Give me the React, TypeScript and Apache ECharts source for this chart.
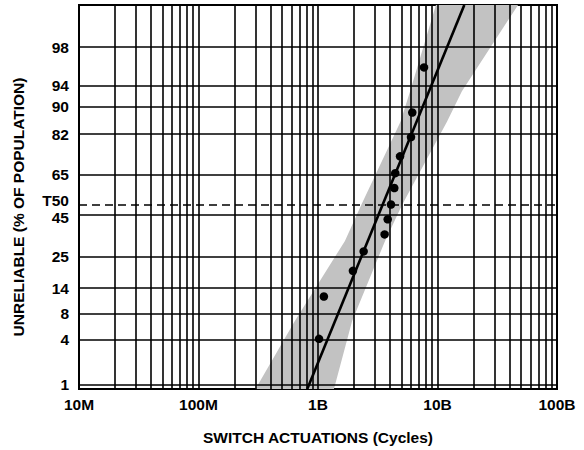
import React, { useEffect, useRef } from "react";
import * as echarts from "echarts";

// ---- data ----
const xTickLabels = ["10M", "100M", "1B", "10B", "100B"];
const xMin = 1e7;
const xMax = 1e11;
const minorMultipliers = [2, 3, 4, 5, 6, 7, 8, 9];

const yGridPct = [1, 4, 8, 14, 25, 45, 65, 82, 90, 94, 98];
const yGridLabels = ["1", "4", "8", "14", "25", "45", "65", "82", "90", "94", "98"];
const t50Pct = 50;
const t50Label = "T50";
const yMinPct = 0.84;
const yMaxPct = 99.53;

const failCycles = [1.02e9, 1.12e9, 1.96e9, 2.41e9, 3.61e9, 3.83e9, 4.08e9, 4.35e9, 4.43e9, 4.86e9, 6.0e9, 6.15e9, 7.71e9];
const failPct = [4.1, 11.7, 19.6, 27.3, 35.1, 42.6, 50.2, 58.7, 66.0, 73.6, 81.1, 88.5, 96.3];

const fitCycles = [8.13e8, 1.676e10];
const fitPct = [0.84, 99.53];

const bandPct = [0.84, 6.6, 32, 50, 86, 93, 99.53];
const bandLow = [3.0e8, 6.4e8, 1.68e9, 2.3e9, 4.9e9, 5.9e9, 9.7e9];
const bandHigh = [1.36e9, 1.93e9, 3.64e9, 5.05e9, 1.2e10, 1.6e10, 4.72e10];

const xTitle = "SWITCH ACTUATIONS (Cycles)";
const yTitle = "UNRELIABLE (% OF POPULATION)";

// inverse standard normal CDF (normal probability scale)
function probit(pct: number): number {
  const p = pct / 100;
  const a = [-3.969683028665376e1, 2.209460984245205e2, -2.759285104469687e2, 1.38357751867269e2, -3.066479806614716e1, 2.506628277459239];
  const b = [-5.447609879822406e1, 1.615858368580409e2, -1.556989798598866e2, 6.680131188771972e1, -1.328068155288572e1];
  const c = [-7.784894002430293e-3, -3.223964580411365e-1, -2.400758277161838, -2.549732539343734, 4.374664141464968, 2.938163982698783];
  const d = [7.784695709041462e-3, 3.224671290700398e-1, 2.445134137142996, 3.754408661907416];
  const plow = 0.02425;
  const phigh = 1 - plow;
  if (p < plow) {
    const q = Math.sqrt(-2 * Math.log(p));
    return (((((c[0] * q + c[1]) * q + c[2]) * q + c[3]) * q + c[4]) * q + c[5]) / ((((d[0] * q + d[1]) * q + d[2]) * q + d[3]) * q + 1);
  }
  if (p <= phigh) {
    const q = p - 0.5;
    const r = q * q;
    return ((((((a[0] * r + a[1]) * r + a[2]) * r + a[3]) * r + a[4]) * r + a[5]) * q) / (((((b[0] * r + b[1]) * r + b[2]) * r + b[3]) * r + b[4]) * r + 1);
  }
  const q = Math.sqrt(-2 * Math.log(1 - p));
  return -(((((c[0] * q + c[1]) * q + c[2]) * q + c[3]) * q + c[4]) * q + c[5]) / ((((d[0] * q + d[1]) * q + d[2]) * q + d[3]) * q + 1);
}

const FONT = '"Liberation Sans", Arial, sans-serif';
const INK = "#000";

export default function App() {
  const ref = useRef<HTMLDivElement>(null);
  useEffect(() => {
    if (!ref.current) return;
    const chart = echarts.init(ref.current, undefined, { renderer: "svg" });

    const verticalLines: any[] = [];
    for (let e = 7; e < 11; e++) {
      const base = Math.pow(10, e);
      if (e > 7) verticalLines.push({ xAxis: base });
      minorMultipliers.forEach((m) => verticalLines.push({ xAxis: m * base }));
    }
    const horizontalLines: any[] = yGridPct.map((p, i) => ({
      yAxis: probit(p),
      label: { formatter: yGridLabels[i], offset: p === 45 ? [0, 3] : [0, 0] },
    }));

    const bandPoly: number[][] = [];
    bandPct.forEach((p, i) => bandPoly.push([bandLow[i], probit(p)]));
    for (let i = bandPct.length - 1; i >= 0; i--) bandPoly.push([bandHigh[i], probit(bandPct[i])]);

    const labelStyle = {
      show: true,
      position: "start",
      distance: 10,
      fontFamily: FONT,
      fontWeight: "bold",
      fontSize: 15.5,
      color: INK,
    };
    const z50 = probit(t50Pct);

    const option: any = {
      animation: false,
      grid: {
        left: 79,
        right: 27,
        top: 5,
        bottom: 61,
        show: true,
        borderColor: INK,
        borderWidth: 2,
        backgroundColor: "transparent",
      },
      xAxis: {
        type: "log",
        logBase: 10,
        min: xMin,
        max: xMax,
        name: xTitle,
        nameLocation: "middle",
        nameGap: 40,
        nameTextStyle: { fontFamily: FONT, fontWeight: "bold", fontSize: 15.5, color: INK },
        axisLine: { show: true, onZero: false, lineStyle: { color: INK, width: 2 } },
        axisTick: { show: false },
        splitLine: { show: false },
        axisLabel: {
          margin: 7,
          fontFamily: FONT,
          fontWeight: "bold",
          fontSize: 15.5,
          color: INK,
          formatter: (v: number) => xTickLabels[Math.round(Math.log10(v)) - 7] ?? "",
        },
      },
      yAxis: {
        type: "value",
        min: probit(yMinPct),
        max: probit(yMaxPct),
        axisLine: { show: true, onZero: false, lineStyle: { color: INK, width: 2 } },
        axisTick: { show: false },
        axisLabel: { show: false },
        splitLine: { show: false },
      },
      graphic: [
        {
          type: "text",
          x: 18,
          y: 207,
          rotation: Math.PI / 2,
          style: {
            text: yTitle,
            font: `bold 15.5px ${FONT}`,
            fill: INK,
            textAlign: "center",
            textVerticalAlign: "middle",
          },
        },
      ],
      series: [
        {
          type: "custom",
          z: 1,
          silent: true,
          data: [0],
          renderItem: (params: any, api: any) => {
            const pts = bandPoly.map((pt) => api.coord(pt));
            return {
              type: "polygon",
              shape: { points: pts },
              style: { fill: "#c2c2c2" },
            };
          },
        },
        {
          type: "line",
          z: 2,
          silent: true,
          data: [],
          markLine: {
            silent: true,
            symbol: "none",
            animation: false,
            lineStyle: { color: INK, width: 1.6, type: "solid" },
            label: labelStyle,
            data: horizontalLines,
          },
        },
        {
          // T50 dashed reference line
          type: "line",
          z: 2,
          silent: true,
          data: [],
          markLine: {
            silent: true,
            symbol: "none",
            animation: false,
            lineStyle: { color: INK, width: 1.7, type: [8, 5] },
            label: { ...labelStyle, offset: [0, -4] },
            data: [{ yAxis: z50, label: { formatter: t50Label } }],
          },
        },
        {
          type: "line",
          z: 2,
          silent: true,
          data: [],
          markLine: {
            silent: true,
            symbol: "none",
            animation: false,
            lineStyle: { color: INK, width: 1.6, type: "solid" },
            label: { show: false },
            data: verticalLines,
          },
        },
        {
          type: "line",
          z: 3,
          silent: true,
          symbol: "none",
          lineStyle: { color: "#000", width: 2.6 },
          data: fitCycles.map((x, i) => [x, probit(fitPct[i])]),
        },
        {
          type: "scatter",
          z: 4,
          silent: true,
          symbol: "circle",
          symbolSize: 8.5,
          itemStyle: { color: "#000", opacity: 1 },
          data: failCycles.map((x, i) => [x, probit(failPct[i])]),
        },
      ],
    };
    chart.setOption(option);
    return () => chart.dispose();
  }, []);
  return (
    <div
      ref={ref}
      style={{ position: "fixed", left: 0, top: 0, width: 584, height: 450, background: "#fff" }}
    />
  );
}
